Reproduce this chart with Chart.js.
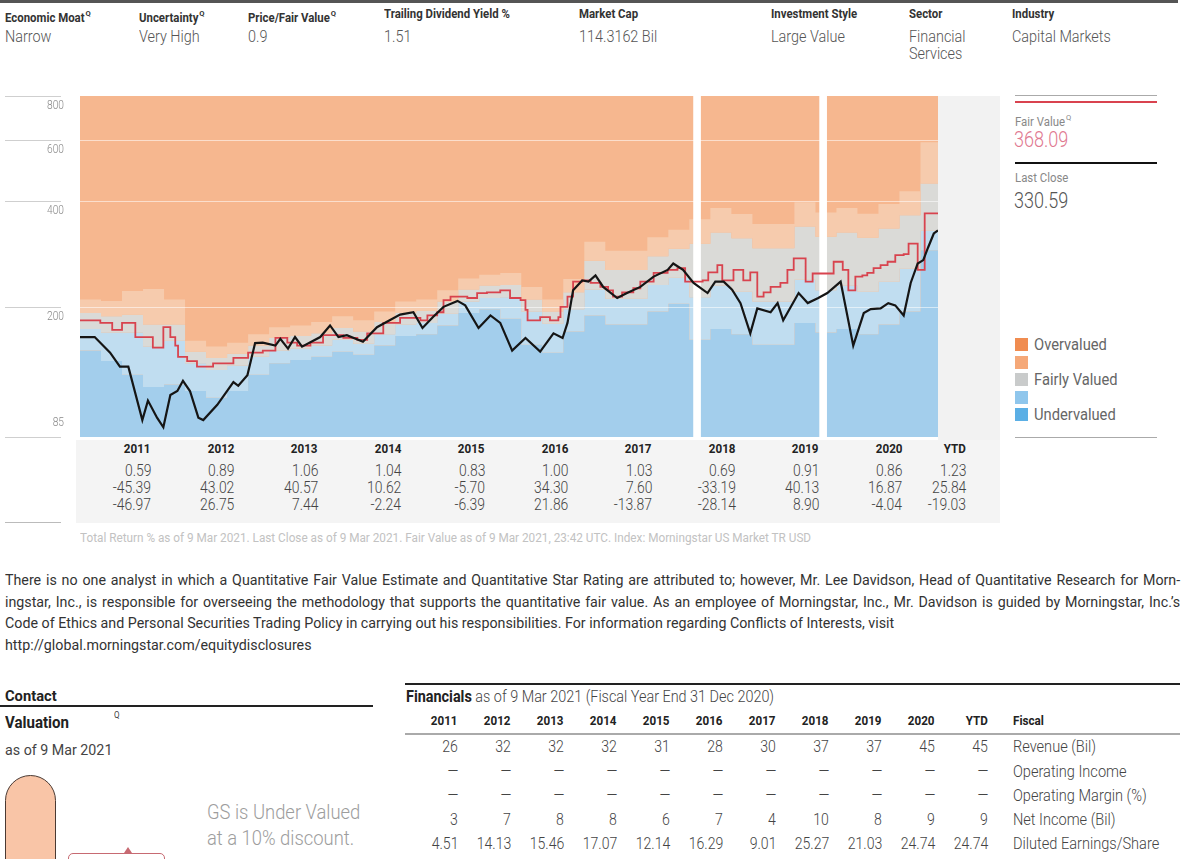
<!DOCTYPE html>
<html>
<head>
<meta charset="utf-8">
<script src="https://cdn.jsdelivr.net/npm/chart.js@4.4.1/dist/chart.umd.min.js"></script>
<style>
  body { margin:0; width:1200px; height:859px; overflow:hidden; background:#fff; position:relative;
    font-family:Roboto,"Liberation Sans",sans-serif; color:#555; }
  .a { position:absolute; white-space:nowrap; transform:scaleX(0.9); transform-origin:left center; }
  .a.rt { transform-origin:right center; }
  .hl { font-size:12px; font-weight:bold; color:#333; line-height:14px; top:7px; transform:scaleX(0.95); }
  .hv { font-size:16px; line-height:17px; top:28px; color:#555; font-weight:300; }
  sup { font-size:8px; vertical-align:6px; margin-left:1px; }
  .line { position:absolute; }
  .sq { position:absolute; left:1015px; width:13px; height:13px; }
  .lg { left:1034px; font-size:16px; line-height:18px; color:#666; transform:scaleX(0.92); }
  .par { position:absolute; left:5px; width:1237px; font-size:15px; line-height:21.5px; color:#333;
    transform:scaleX(0.95); transform-origin:left top; }
  .par div { text-align:justify; text-align-last:justify; white-space:nowrap; }
  .par div.last { text-align-last:left; }
</style>
</head>
<body>
<!-- header strip -->
<div class="line" style="left:0;top:0;width:1178px;height:3px;background:#555"></div>
<div class="a hl" style="left:5px">Economic Moat<sup>Q</sup></div>
<div class="a hv" style="left:5px">Narrow</div>
<div class="a hl" style="left:139px">Uncertainty<sup>Q</sup></div>
<div class="a hv" style="left:139px">Very High</div>
<div class="a hl" style="left:248px">Price/Fair Value<sup>Q</sup></div>
<div class="a hv" style="left:248px">0.9</div>
<div class="a hl" style="left:384px">Trailing Dividend Yield %</div>
<div class="a hv" style="left:384px">1.51</div>
<div class="a hl" style="left:579px">Market Cap</div>
<div class="a hv" style="left:579px">114.3162 Bil</div>
<div class="a hl" style="left:771px">Investment Style</div>
<div class="a hv" style="left:771px">Large Value</div>
<div class="a hl" style="left:909px">Sector</div>
<div class="a hv" style="left:909px">Financial<br>Services</div>
<div class="a hl" style="left:1012px">Industry</div>
<div class="a hv" style="left:1012px">Capital Markets</div>

<!-- backgrounds behind chart & table -->
<div class="line" style="left:938px;top:96px;width:62px;height:344px;background:#f2f2f2"></div>
<div class="line" style="left:76px;top:440px;width:924px;height:83px;background:#f4f4f4"></div>
<div class="line" style="left:5px;top:522px;width:56px;height:1px;background:#bbb"></div>

<div style="position:absolute;left:0;top:90px;width:1000px;height:350px">
  <canvas id="valChart"></canvas>
</div>

<!-- right legend panel -->
<div class="line" style="left:1015px;top:95px;width:142px;height:1px;background:#aaa"></div>
<div class="line" style="left:1015px;top:101px;width:142px;height:2px;background:#d9434f"></div>
<div class="a" style="left:1015px;top:110px;font-size:12px;line-height:15px;color:#888;transform:scaleX(0.95)">Fair Value<sup>Q</sup></div>
<div class="a" style="left:1014px;top:128px;font-size:22px;line-height:24px;color:#e07890;font-weight:300;transform:scaleX(0.82)">368.09</div>
<div class="line" style="left:1015px;top:162px;width:142px;height:2px;background:#111"></div>
<div class="a" style="left:1015px;top:171px;font-size:12px;line-height:15px;color:#888;transform:scaleX(0.95)">Last Close</div>
<div class="a" style="left:1014px;top:189px;font-size:22px;line-height:24px;color:#555;font-weight:300;transform:scaleX(0.82)">330.59</div>
<div class="sq" style="top:338px;background:#f08c50"></div>
<div class="sq" style="top:356px;background:#f5a878"></div>
<div class="sq" style="top:373px;background:#c9cbcb"></div>
<div class="sq" style="top:391px;background:#8fc6ec"></div>
<div class="sq" style="top:408px;background:#5bafe5"></div>
<div class="a lg" style="top:336px">Overvalued</div>
<div class="a lg" style="top:371px">Fairly Valued</div>
<div class="a lg" style="top:406px">Undervalued</div>
<div class="line" style="left:1015px;top:437px;width:142px;height:1px;background:#aaa"></div>

<div id="perfTable"></div>
<div class="a" style="left:80px;top:531px;font-size:12px;line-height:14px;color:#c2c2c2;transform:scaleX(0.98)">Total Return % as of 9 Mar 2021. Last Close as of 9 Mar 2021. Fair Value as of 9 Mar 2021, 23:42 UTC. Index: Morningstar US Market TR USD</div>

<div class="par" style="top:570px">
  <div>There is no one analyst in which a Quantitative Fair Value Estimate and Quantitative Star Rating are attributed to; however, Mr. Lee Davidson, Head of Quantitative Research for Morn-</div>
  <div>ingstar, Inc., is responsible for overseeing the methodology that supports the quantitative fair value. As an employee of Morningstar, Inc., Mr. Davidson is guided by Morningstar, Inc.’s</div>
  <div class="last">Code of Ethics and Personal Securities Trading Policy in carrying out his responsibilities. For information regarding Conflicts of Interests, visit</div>
  <div class="last">http://global.morningstar.com/equitydisclosures</div>
</div>

<!-- valuation block -->
<div class="a" style="left:5px;top:687px;font-size:15px;line-height:18px;font-weight:bold;color:#222;transform:scaleX(0.98)">Contact</div>
<div class="line" style="left:0;top:705px;width:373px;height:2px;background:#222"></div>
<div class="a" style="left:5px;top:713px;font-size:16px;line-height:19px;font-weight:bold;color:#222;transform:scaleX(0.94)">Valuation</div>
<div class="a" style="left:114px;top:710px;font-size:9px;color:#444">Q</div>
<div class="a" style="left:5px;top:741px;font-size:15px;line-height:18px;color:#444;transform:scaleX(0.95)">as of 9 Mar 2021</div>
<div class="line" style="left:5px;top:775px;width:49px;height:100px;background:#f9c5a7;border:1.5px solid #4a3a33;border-radius:26px 26px 0 0"></div>
<div class="line" style="left:68px;top:853px;width:95px;height:20px;border:1px solid #c76a72;border-radius:5px"></div>
<div class="line" style="left:124px;top:847px;width:0;height:0;border-left:4px solid transparent;border-right:4px solid transparent;border-bottom:6px solid #c76a72"></div>
<div class="a" style="left:207px;top:800px;font-size:20px;line-height:24px;color:#9d9d9d;font-weight:300;transform:scaleX(0.92)">GS is Under Valued</div>
<div class="a" style="left:207px;top:826px;font-size:20px;line-height:24px;color:#9d9d9d;font-weight:300;transform:scaleX(0.92)">at a 10% discount.</div>

<!-- financials -->
<div class="line" style="left:405px;top:683px;width:775px;height:2px;background:#222"></div>
<div class="a" style="left:406px;top:688px;font-size:16px;line-height:18px;color:#444;font-weight:300"><b style="color:#222;font-weight:bold">Financials</b> as of 9 Mar 2021 (Fiscal Year End 31 Dec 2020)</div>
<div class="line" style="left:405px;top:733px;width:775px;height:1.5px;background:#aaa"></div>
<div id="finTable"></div>

<script>
// ---- chart data (months counted from Jan 2011) ----
const yTicks = [85, 200, 400, 600, 800];

const priceMonth = [0, 2.1, 4.3, 5.7, 6.9, 8.9, 9.7, 11, 11.9, 12.9, 13.9, 14.7, 15.7, 16.9, 17.6, 19.6, 21.9, 22.6, 23.9,
  25, 26.1, 27.9, 28.6, 29.7, 30.7, 31.7, 34.3, 35.7, 36.9, 38.1, 40.4, 42.4, 45.7, 47.6, 48.9, 50.4, 51.9, 53.9, 55,
  56.9, 58.6, 60, 61.7, 63.6, 65.7, 67.6, 68.9, 69.6, 70.4, 71.7, 72.6, 73.6, 74.7, 76.7, 78.1, 80, 81.9, 83.9, 84.7,
  86.1, 87.6, 89.6, 90.7, 91.9, 93.1, 94.3, 95.7, 96.7, 98.6, 99.6, 100.4, 102.6, 103.9, 105.4, 106.7, 108.6, 110.4,
  111.9, 112.9, 114.3, 115.4, 116.4, 117.6, 118.6, 119.6, 120.4, 121.1, 121.9, 122.5];
const priceValue = [164, 164, 148, 135, 135, 95, 108, 96.5, 90.6, 112, 115, 123, 115, 96.5, 95, 105, 122, 119, 127.6,
  157.6, 158, 155, 162, 152, 164, 154, 164, 177, 164, 166, 159, 175, 190, 193, 174, 187, 200, 208, 202,
  174, 189, 180, 150, 163, 149, 168, 163, 180, 223, 238, 236, 246, 228, 212, 219, 228, 244, 255, 266,
  255, 234, 219, 236, 236, 224, 205, 168, 198, 193, 205, 183, 219, 205, 212, 219, 236, 155,
  192, 197, 198, 205, 202, 189, 234, 266, 272, 296, 324, 330.6];

const fairMonth = [0, 2.9, 4.6, 6, 7.9, 10.4, 11.9, 12.9, 13.6, 14, 15.3, 16.7, 19, 21.9, 24, 26.1, 27.9, 29.6, 31, 32.9,
  34.7, 37.6, 39.6, 41, 43.3, 45.7, 48.6, 49.6, 51, 51.9, 52.9, 55.3, 56.7, 58.1, 60, 61.4, 62.9, 63.6, 63.9, 65.7,
  67.1, 68.3, 68.6, 69.6, 70.4, 71.7, 72.9, 74.3, 75.4, 76.1, 77.4, 79, 80, 81.9, 83.9, 85.3, 86.4, 88.9, 89.7, 91,
  91.7, 93.3, 94.7, 95.7, 96.7, 97.6, 98.6, 100, 101, 101.9, 103.6, 104.6, 107.6, 108.9, 109.7, 110.7, 111.7, 112.4,
  113.3, 114.3, 115.3, 116.4, 117.6, 118.3, 119.6, 120.6, 122.5];
const fairValue = [183, 180, 172, 180, 164, 153, 175, 164, 155, 144, 140, 135, 138, 143, 148, 150, 163, 158, 155, 158,
  166, 163, 161, 168, 180, 186, 183, 189, 193, 209, 214, 212, 219, 220, 223, 212, 209, 196, 183, 187,
  183, 187, 200, 214, 236, 238, 234, 228, 223, 214, 220, 226, 236, 250, 255, 258, 236, 238, 251, 263,
  238, 255, 238, 251, 214, 220, 228, 234, 255, 275, 236, 249, 269, 255, 223, 244, 246, 250,
  258, 263, 269, 281, 283, 303, 255, 370, 368];

// valuation bands, one value per quarter
const bandMonth = [0, 3, 6, 9, 12, 15, 18, 21, 24, 27, 30, 33, 36, 39, 42, 45, 48, 51, 54, 57, 60,
  63, 66, 69, 72, 75, 78, 81, 84, 87, 90, 93, 96, 99, 102, 105, 108, 111, 114, 117, 120, 122.5];
const overTop = [210, 208, 222, 225, 210, 160, 154, 158, 167, 175, 177, 181, 188, 183, 194, 207, 210, 223, 241, 247, 250,
  228, 210, 240, 307, 289, 289, 316, 332, 356, 383, 368, 345, 345, 398, 372, 383, 369, 393, 428, 590, 590];
const fairTop = [192, 188, 190, 178, 178, 149, 143, 147, 155, 163, 165, 168, 174, 170, 181, 192, 195, 207, 224, 230, 231,
  210, 194, 220, 271, 255, 255, 279, 293, 303, 326, 314, 294, 294, 339, 317, 326, 315, 335, 365, 450, 450];
const fairBottom = [173, 169, 169, 154, 160, 138, 132, 136, 144, 150, 152, 155, 161, 157, 167, 178, 180, 191, 207, 212, 213,
  194, 179, 197, 224, 211, 211, 231, 242, 213, 230, 221, 207, 207, 239, 223, 230, 221, 236, 257, 330, 330];
const underTop = [150, 140, 128, 118, 120, 115, 110, 115, 128, 138, 141, 144, 149, 146, 155, 165, 167, 177, 192, 197, 185,
  156, 148, 170, 189, 178, 178, 194, 204, 161, 173, 167, 156, 156, 180, 169, 173, 167, 178, 194, 290, 290];

// months with no band data
const gapMonth = [88.1, 106.1];

// ---- tables ----
const years = ['2011', '2012', '2013', '2014', '2015', '2016', '2017', '2018', '2019', '2020', 'YTD'];
const priceToFair = [0.59, 0.89, 1.06, 1.04, 0.83, 1.00, 1.03, 0.69, 0.91, 0.86, 1.23];
const totalReturn = [-45.39, 43.02, 40.57, 10.62, -5.70, 34.30, 7.60, -33.19, 40.13, 16.87, 25.84];
const vsIndex = [-46.97, 26.75, 7.44, -2.24, -6.39, 21.86, -13.87, -28.14, 8.90, -4.04, -19.03];

const finLabels = ['Revenue (Bil)', 'Operating Income', 'Operating Margin (%)', 'Net Income (Bil)', 'Diluted Earnings/Share'];
const revenue = [26, 32, 32, 32, 31, 28, 30, 37, 37, 45, 45];
const operatingIncome = [null, null, null, null, null, null, null, null, null, null, null];
const operatingMargin = [null, null, null, null, null, null, null, null, null, null, null];
const netIncome = [3, 7, 8, 8, 6, 7, 4, 10, 8, 9, 9];
const dilutedEps = [4.51, 14.13, 15.46, 17.07, 12.14, 16.29, 9.01, 25.27, 21.03, 24.74, 24.74];

function cell(txt, pos, cy, size, bold, color, sx, alignLeft) {
  const d = document.createElement('div');
  d.className = alignLeft ? 'a' : 'a rt';
  d.textContent = txt;
  if (alignLeft) d.style.left = pos + 'px';
  else d.style.right = (1200 - pos) + 'px';
  d.style.top = (cy - 9) + 'px';
  d.style.lineHeight = '18px';
  d.style.fontSize = size + 'px';
  d.style.fontWeight = bold ? 'bold' : '300';
  d.style.color = color;
  d.style.transform = 'scaleX(' + sx + ')';
  return d;
}

const perf = document.getElementById('perfTable');
years.forEach((y, i) => {
  const right = i < 10 ? 151 + 83.5 * i : 966;
  perf.appendChild(cell(y, right, 449, 12, true, '#222', 0.97));
  perf.appendChild(cell(priceToFair[i].toFixed(2), right, 471, 16, false, '#444', 0.87));
  perf.appendChild(cell(totalReturn[i].toFixed(2), right, 488, 16, false, '#444', 0.87));
  perf.appendChild(cell(vsIndex[i].toFixed(2), right, 505, 16, false, '#444', 0.87));
});

const fin = document.getElementById('finTable');
const finRows = [revenue, operatingIncome, operatingMargin, netIncome, dilutedEps];
const finY = [747, 772, 796, 820, 844];
years.forEach((y, i) => {
  const right = 458 + 53 * i;
  fin.appendChild(cell(y, right, 721, 12, true, '#222', 0.97));
  finRows.forEach((row, r) => {
    const v = row[i];
    fin.appendChild(cell(v === null ? '—' : String(v), right, finY[r], 16, false, '#444', 0.88));
  });
});
fin.appendChild(cell('Fiscal', 1013, 721, 12, true, '#222', 0.97, true));
finLabels.forEach((l, r) => fin.appendChild(cell(l, 1013, finY[r], 16, false, '#444', 0.91, true)));

// ---- chart ----
const toPts = (xs, ys) => xs.map((x, i) => ({ x: x, y: ys[i] }));

const bandPlugin = {
  id: 'bands',
  beforeDraw(chart) {
    const a = chart.chartArea, c = chart.ctx;
    c.save();
    c.fillStyle = '#f6b78f';
    c.fillRect(a.left, a.top, a.right - a.left, a.bottom - a.top);
    c.restore();
  },
  beforeDatasetDraw(chart, args) {
    if (args.index !== 1) return;
    const a = chart.chartArea, c = chart.ctx, y = chart.scales.y;
    c.save();
    c.strokeStyle = 'rgba(255,255,255,0.55)';
    c.lineWidth = 1;
    [200, 400, 600].forEach(v => {
      const py = Math.round(y.getPixelForValue(v)) + 0.5;
      c.beginPath(); c.moveTo(a.left, py); c.lineTo(a.right, py); c.stroke();
    });
    c.restore();
  },
  afterDraw(chart) {
    const a = chart.chartArea, c = chart.ctx, y = chart.scales.y;
    c.save();
    c.textAlign = 'right';
    c.textBaseline = 'middle';
    yTicks.forEach(v => {
      const py = Math.round(y.getPixelForValue(v)) + 0.5;
      c.strokeStyle = '#cfcfcf';
      c.lineWidth = 1;
      c.beginPath(); c.moveTo(5, py); c.lineTo(61, py); c.stroke();
      c.fillStyle = '#8a8a8a';
      const ly = py + 10 > a.bottom ? py - 15 : py + 9;
      c.save();
      c.translate(64, ly);
      c.scale(0.85, 1);
      c.font = '300 12px Roboto';
      c.fillText(String(v), 0, 0);
      c.restore();
    });
    c.restore();
  }
};

const bandDs = (data, fill, color) => ({
  data: toPts(bandMonth, data), stepped: 'before', borderWidth: 0, pointRadius: 0,
  fill: fill, backgroundColor: color
});

new Chart(document.getElementById('valChart'), {
  type: 'line',
  data: {
    datasets: [
      { data: toPts(priceMonth, priceValue), borderColor: '#151515', borderWidth: 2.2, pointRadius: 0, tension: 0, fill: false },
      { data: toPts(fairMonth, fairValue), stepped: 'before', borderColor: '#d8434e', borderWidth: 1.8, pointRadius: 0, fill: false },
      { type: 'bar', yAxisID: 'yGap', data: gapMonth.map(m => ({ x: m, y: 1 })), backgroundColor: '#ffffff', barThickness: 7 },
      bandDs(overTop, '+1', '#f6cbad'),
      bandDs(fairTop, '+1', '#dadad7'),
      bandDs(fairBottom, '+1', '#c0ddf0'),
      bandDs(underTop, 'start', '#a3ceec')
    ]
  },
  options: {
    responsive: true,
    maintainAspectRatio: false,
    animation: false,
    devicePixelRatio: 1,
    layout: { padding: { left: 80, right: 62, top: 6, bottom: 3 } },
    plugins: { legend: { display: false }, tooltip: { enabled: false } },
    scales: {
      x: { type: 'linear', min: 0, max: 122.5, offset: false, display: false, grid: { offset: false } },
      y: { type: 'logarithmic', min: 85, max: 800, display: false },
      yGap: { type: 'linear', min: 0, max: 1, display: false }
    }
  },
  plugins: [bandPlugin]
});
</script>
</body>
</html>
